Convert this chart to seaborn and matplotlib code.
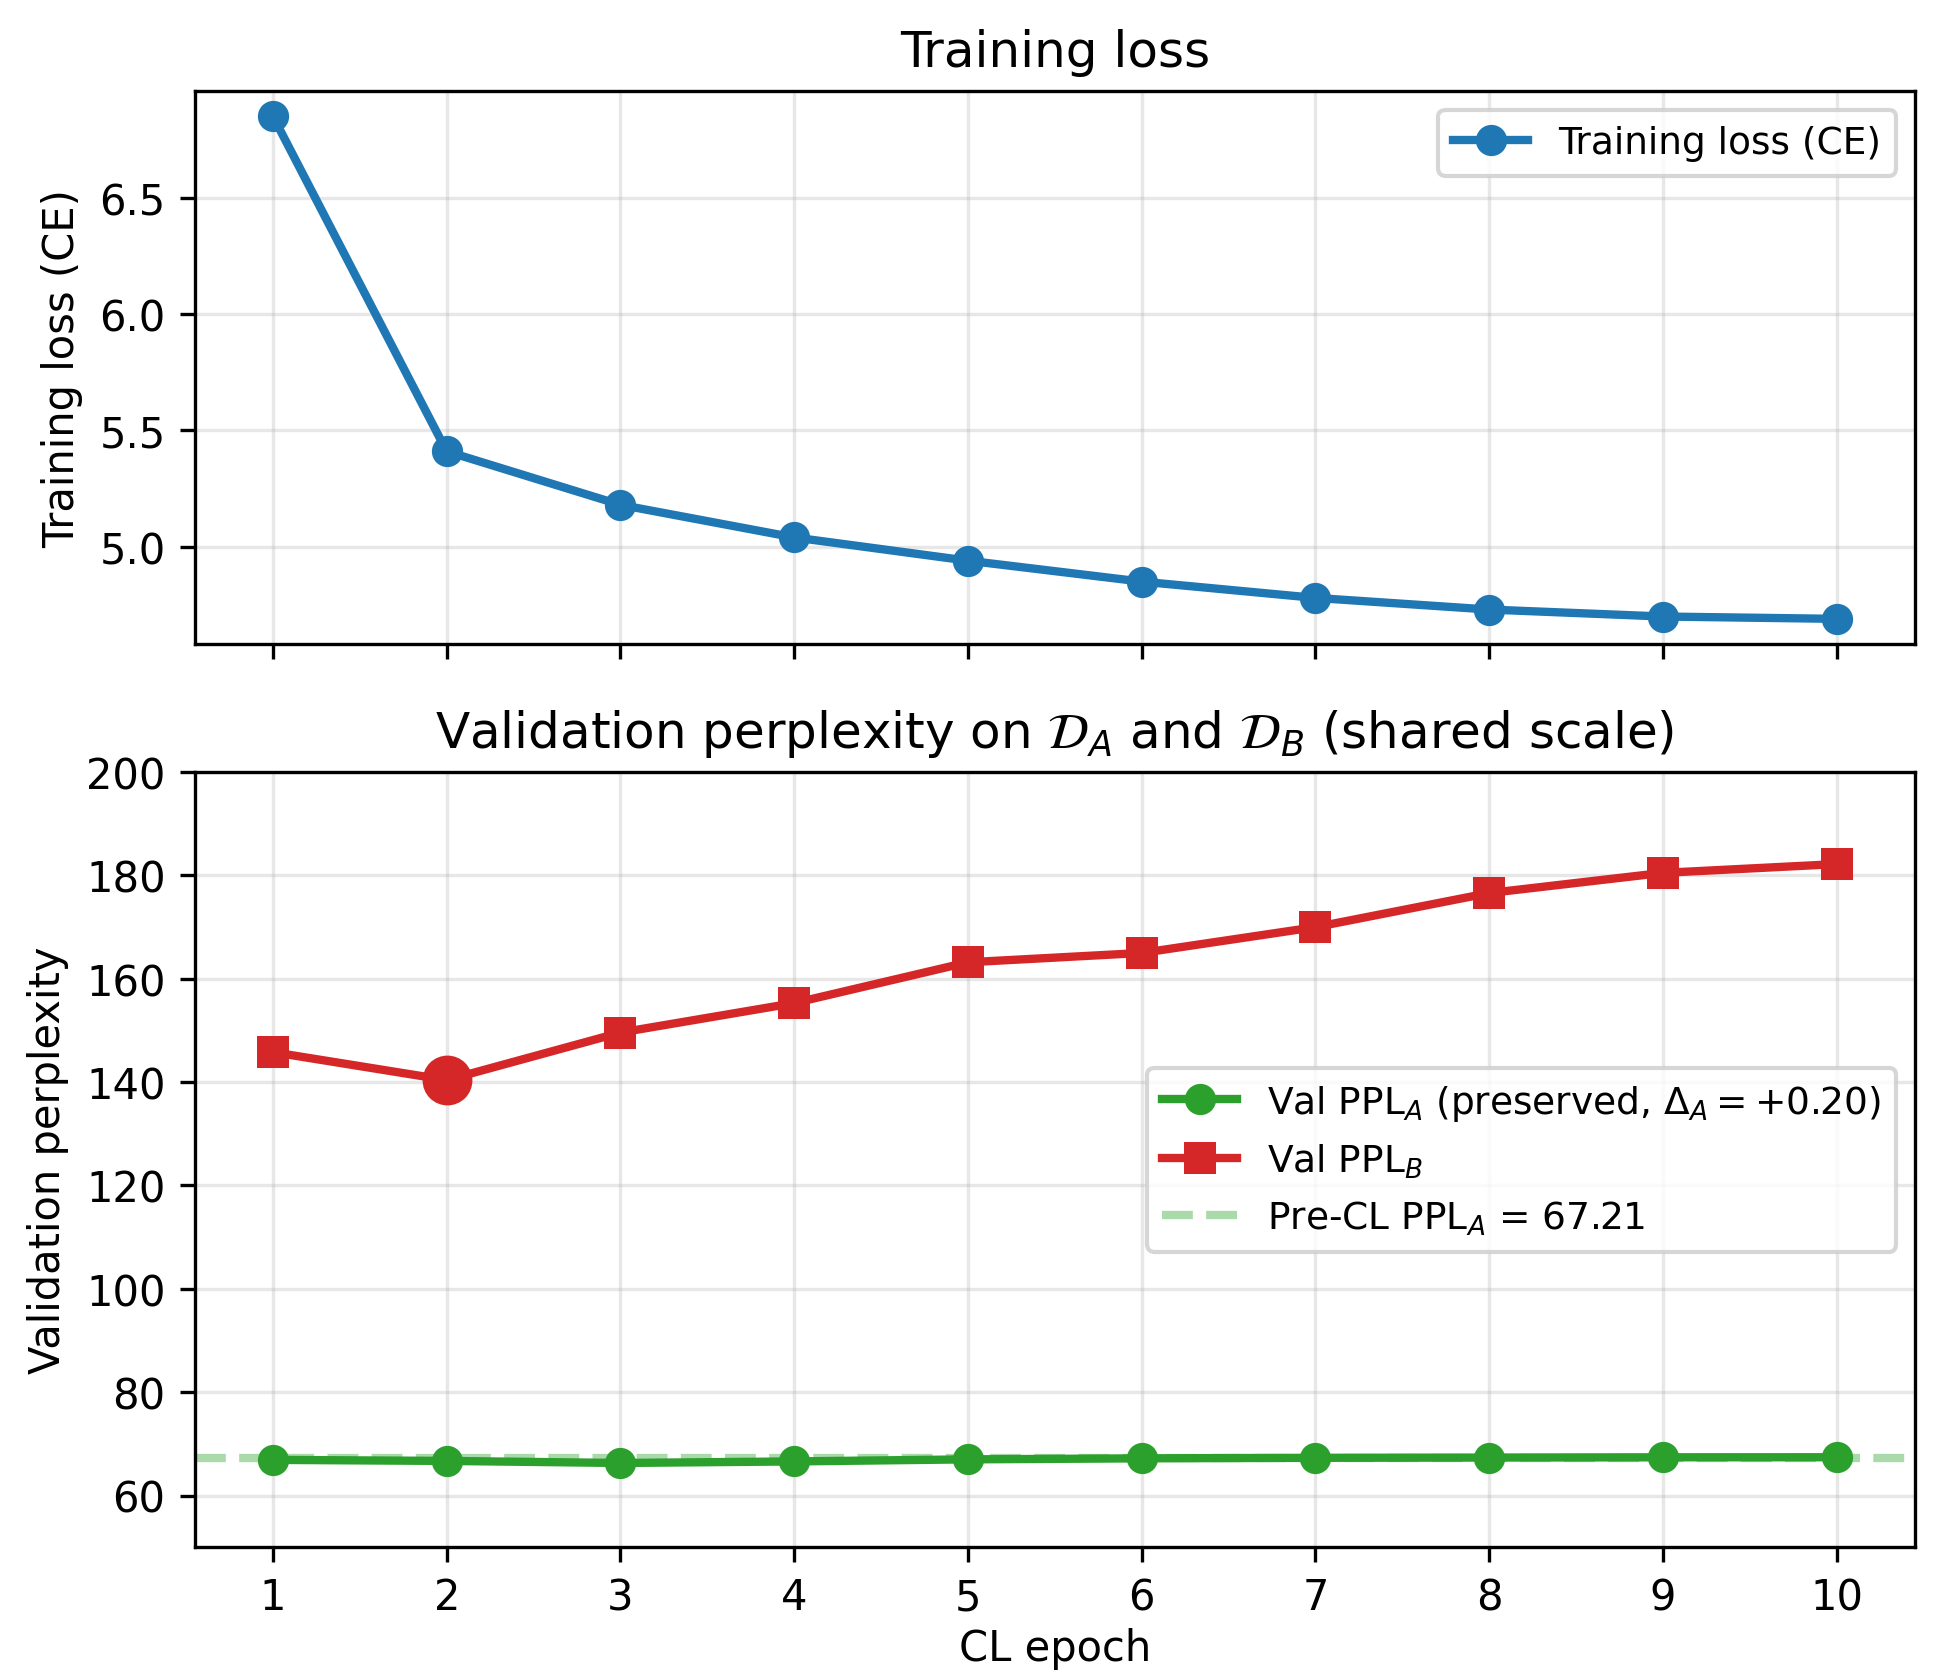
import matplotlib
matplotlib.use("Agg")
import matplotlib.pyplot as plt
import seaborn as sns
import pandas as pd

# Values
epochs = [1, 2, 3, 4, 5, 6, 7, 8, 9, 10]
train_loss = [6.85, 5.41, 5.18, 5.04, 4.94, 4.85, 4.78, 4.73, 4.70, 4.69]
ppl_a = [66.9, 66.7, 66.3, 66.6, 67.0, 67.2, 67.3, 67.35, 67.4, 67.41]
ppl_b = [145.8, 140.4, 149.6, 155.3, 163.2, 165.0, 170.0, 176.6, 180.5, 182.2]
pre_cl_ppl_a = 67.21
best_epoch = 2

df = pd.DataFrame({"epoch": epochs, "loss": train_loss, "ppl_a": ppl_a, "ppl_b": ppl_b})

fig, (ax1, ax2) = plt.subplots(2, 1, figsize=(6.493, 5.583), dpi=300, sharex=True,
                               gridspec_kw={"height_ratios": [445, 624]})

# Top panel: training loss
sns.lineplot(data=df, x="epoch", y="loss", ax=ax1, color="#1f77b4", marker="o",
             markersize=7.5, markeredgewidth=0, linewidth=2, label="Training loss (CE)")
ax1.set_title("Training loss", fontsize=12)
ax1.set_ylabel("Training loss (CE)")
ax1.set_xlabel("")
ax1.grid(True, alpha=0.3)
ax1.legend(loc="upper right", fontsize=9)
ax1.tick_params(labelbottom=False)

# Bottom panel: validation perplexity
ax2.axhline(pre_cl_ppl_a, color="#2ca02c", linestyle="--", linewidth=2, alpha=0.4,
            label=r"Pre-CL PPL$_A$ = 67.21")
sns.lineplot(data=df, x="epoch", y="ppl_a", ax=ax2, color="#2ca02c", marker="o",
             markersize=7.5, markeredgewidth=0, linewidth=2,
             label=r"Val PPL$_A$ (preserved, $\Delta_A = +0.20$)")
sns.lineplot(data=df, x="epoch", y="ppl_b", ax=ax2, color="#d62728", marker="s",
             markersize=7.5, markeredgewidth=0, linewidth=2, label=r"Val PPL$_B$")
best = df[df["epoch"] == best_epoch]
ax2.scatter(best["epoch"], best["ppl_b"], s=120, color="#d62728", zorder=5)

ax2.set_title(r"Validation perplexity on $\mathcal{D}_A$ and $\mathcal{D}_B$ (shared scale)", fontsize=12)
ax2.set_xlabel("CL epoch", labelpad=2)
ax2.set_ylabel("Validation perplexity")
ax2.set_ylim(50, 200)
ax2.set_xticks(epochs)
ax2.grid(True, alpha=0.3)

handles, labels = ax2.get_legend_handles_labels()
order = [labels.index(l) for l in [r"Val PPL$_A$ (preserved, $\Delta_A = +0.20$)",
                                   r"Val PPL$_B$", r"Pre-CL PPL$_A$ = 67.21"]]
ax2.legend([handles[i] for i in order], [labels[i] for i in order],
           loc="center right", fontsize=9)

fig.subplots_adjust(left=0.100, right=0.983, top=0.945, bottom=0.0757, hspace=0.193)
plt.savefig("out.png", dpi=300)
